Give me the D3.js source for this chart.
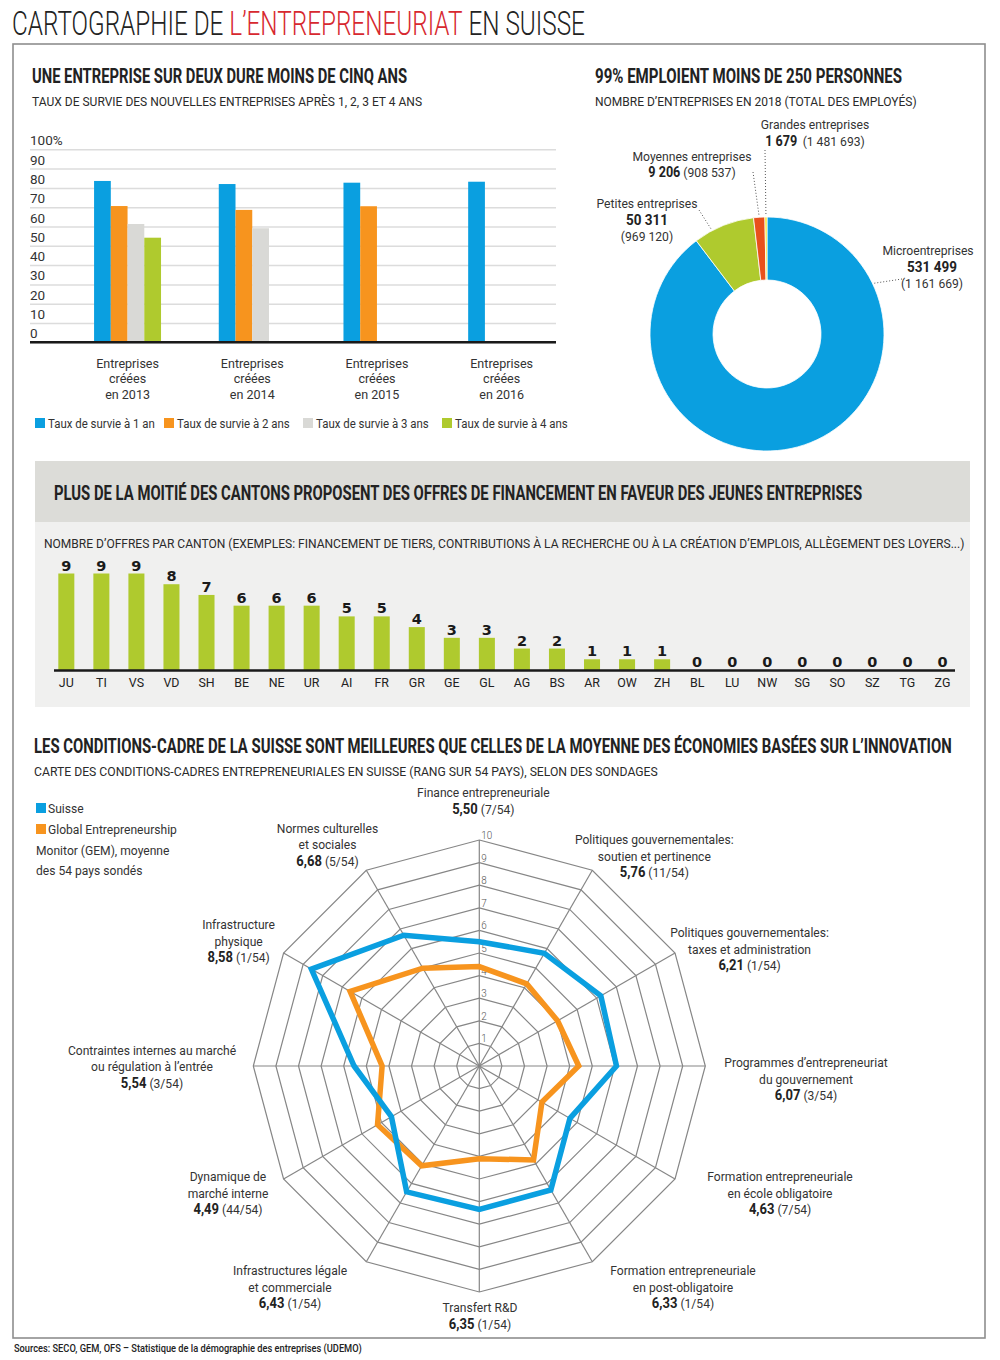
<!DOCTYPE html>
<html><head><meta charset="utf-8">
<script src="https://cdn.jsdelivr.net/npm/d3@7"></script>
<style>html,body{margin:0;padding:0;background:#fff}</style>
</head><body><svg id="c" width="1000" height="1360"></svg>
<script>
// ---------------- DATA ----------------
const years = ["2013", "2014", "2015", "2016"];
const survivalSeries = ["Taux de survie à 1 an", "Taux de survie à 2 ans", "Taux de survie à 3 ans", "Taux de survie à 4 ans"];
const survival1 = [83.6, 82.0, 82.7, 83.2];
const survival2 = [70.6, 68.6, 70.5, null];
const survival3 = [61.3, 59.1, null, null];
const survival4 = [54.2, null, null, null];
const survivalTicks = [0, 10, 20, 30, 40, 50, 60, 70, 80, 90, 100];

const sizeClasses = ["Microentreprises", "Petites entreprises", "Moyennes entreprises", "Grandes entreprises"];
const firmCounts = [531499, 50311, 9206, 1679];
const employeeCounts = [1161669, 969120, 908537, 1481693];

const cantons = ["JU","TI","VS","VD","SH","BE","NE","UR","AI","FR","GR","GE","GL","AG","BS","AR","OW","ZH","BL","LU","NW","SG","SO","SZ","TG","ZG"];
const offers = [9,9,9,8,7,6,6,6,5,5,4,3,3,2,2,1,1,1,0,0,0,0,0,0,0,0];

const radarAxes = [
  ["Finance entrepreneuriale"],
  ["Politiques gouvernementales:", "soutien et pertinence"],
  ["Politiques gouvernementales:", "taxes et administration"],
  ["Programmes d’entrepreneuriat", "du gouvernement"],
  ["Formation entrepreneuriale", "en école obligatoire"],
  ["Formation entrepreneuriale", "en post-obligatoire"],
  ["Transfert R&D"],
  ["Infrastructures légale", "et commerciale"],
  ["Dynamique de", "marché interne"],
  ["Contraintes internes au marché", "ou régulation à l’entrée"],
  ["Infrastructure", "physique"],
  ["Normes culturelles", "et sociales"]
];
const suisseScores = [5.50, 5.76, 6.21, 6.07, 4.63, 6.33, 6.35, 6.43, 4.49, 5.54, 8.58, 6.68];
const suisseRanks = [7, 11, 1, 3, 7, 1, 1, 1, 44, 3, 1, 5];
const gemScores = [4.4, 4.2, 4.0, 4.4, 3.2, 4.8, 4.1, 5.1, 5.2, 4.3, 6.6, 5.0];
const radarTicks = [1,2,3,4,5,6,7,8,9,10];

// ---------------- STYLE / LAYOUT ----------------
const COL = {blue:"#0a9fe0", orange:"#f7941e", gray:"#d9d9d6", green:"#afca2e", red:"#e8501c", yellow:"#f5e40a", titleRed:"#d7282f", text:"#2a2a2a"};
const FONT = "Roboto, 'Open Sans', 'Liberation Sans', sans-serif";
const fr = d3.formatLocale({decimal:",", thousands:" ", grouping:[3], currency:["","€"]});
const fmtInt = fr.format(",");
const fmtScore = fr.format(".2f");

const svg = d3.select("#c");
svg.append("rect").attr("width",1000).attr("height",1360).attr("fill","#fff");

function T(g, x, y, str, o = {}) {
  const t = g.append("text")
    .attr("transform", `translate(${x},${y}) scale(${o.sx || 0.93},1)`)
    .attr("text-anchor", o.anchor || "start")
    .style("font-family", o.family || FONT)
    .style("font-size", (o.size || 13) + "px")
    .style("font-weight", o.weight || 400)
    .style("fill", o.fill || COL.text);
  if (str !== null) t.text(str);
  return t;
}
function fit(t, x, y, width) {
  const w = t.node().getComputedTextLength();
  t.attr("transform", `translate(${x},${y}) scale(${width / w},1)`);
  return t;
}

// frame
svg.append("rect").attr("x",13).attr("y",44).attr("width",972).attr("height",1294)
  .attr("fill","none").attr("stroke","#8e8e8e").attr("stroke-width",1.6);

// main title
const mt = T(svg, 0, 0, null, {size:33, weight:300, fill:"#222"});
mt.append("tspan").text("CARTOGRAPHIE DE ");
mt.append("tspan").attr("fill", COL.titleRed).style("fill", COL.titleRed).text("L’ENTREPRENEURIAT");
mt.append("tspan").text(" EN SUISSE");
fit(mt, 12, 35, 573);

// ---------------- SECTION 1: survival bars ----------------
fit(T(svg,0,0,"UNE ENTREPRISE SUR DEUX DURE MOINS DE CINQ ANS",{size:21,weight:700,fill:"#222"}), 32, 83, 375);
fit(T(svg,0,0,"TAUX DE SURVIE DES NOUVELLES ENTREPRISES APRÈS 1, 2, 3 ET 4 ANS",{size:13,weight:400}), 32, 105.5, 390);

const g1 = svg.append("g");
const y1 = d3.scaleLinear().domain([0,100]).range([342.3,149.3]);
const gx0 = 30, gx1 = 556;
const yAx = g1.append("g").attr("transform",`translate(${gx0},0)`)
  .call(d3.axisRight(y1).tickValues(survivalTicks).tickSize(gx1-gx0).tickFormat(d => d === 100 ? "100%" : d));
yAx.select(".domain").remove();
yAx.selectAll(".tick line").attr("stroke","#dcdcdc").attr("stroke-width",1.5);
yAx.selectAll(".tick text").attr("x",0).attr("dy",-4.5).attr("text-anchor","start")
  .style("font-family",FONT).style("font-size","13.5px").style("fill","#333");

const x0 = d3.scaleBand().domain(years).range([65.2,564]).paddingInner(0.463).paddingOuter(0.2315);
const seriesKeys = [0,1,2,3];
const x1 = d3.scaleBand().domain(seriesKeys).range([0, x0.bandwidth()]);
const seriesVals = [survival1, survival2, survival3, survival4];
const seriesCol = [COL.blue, COL.orange, COL.gray, COL.green];
years.forEach((yr, yi) => {
  seriesKeys.forEach(si => {
    const v = seriesVals[si][yi];
    if (v == null) return;
    g1.append("rect").attr("x", x0(yr) + x1(si)).attr("width", x1.bandwidth())
      .attr("y", y1(v)).attr("height", y1(0) - y1(v)).attr("fill", seriesCol[si]);
  });
  const cx = x0(yr) + x0.bandwidth()/2;
  ["Entreprises","créées","en " + yr].forEach((s,li) => T(g1, cx, 367.5 + li*15.5, s, {anchor:"middle", size:13.5, fill:"#333"}));
});
g1.append("line").attr("x1",gx0).attr("x2",gx1).attr("y1",y1(0)).attr("y2",y1(0)).attr("stroke","#1a1a1a").attr("stroke-width",2.5);

// legend
const legX = [35, 164, 303, 442];
survivalSeries.forEach((s,i) => {
  g1.append("rect").attr("x",legX[i]).attr("y",418).attr("width",10).attr("height",10).attr("fill",seriesCol[i]);
  T(g1, legX[i]+13, 427.5, s, {size:13, sx:0.88, fill:"#333"});
});

// ---------------- SECTION 1b: donut ----------------
fit(T(svg,0,0,"99% EMPLOIENT MOINS DE 250 PERSONNES",{size:21,weight:700,fill:"#222"}), 595, 83, 307);
fit(T(svg,0,0,"NOMBRE D’ENTREPRISES EN 2018 (TOTAL DES EMPLOYÉS)",{size:13,weight:400}), 595, 105.5, 322);

const dc = {x:767, y:334}, rOut = 117, rIn = 54;
const gd = svg.append("g").attr("transform",`translate(${dc.x},${dc.y})`);
const pie = d3.pie().sort(null).value(d => d)(firmCounts);
const arc = d3.arc().innerRadius(rIn).outerRadius(rOut);
const donutCol = [COL.blue, COL.green, COL.red, COL.yellow];
gd.selectAll("path").data(pie).join("path").attr("d",arc).attr("fill",(d,i)=>donutCol[i])
  .attr("stroke","#fff").attr("stroke-width",0.8);

// donut labels (positions relative to donut centre)
const donutLab = [
  {x:161, y:-79, from:[135,-55], frac:0.2},
  {x:-120, y:-126, from:[-68,-124], frac:0.3},
  {x:-75, y:-173, from:[-14,-162], frac:0.5},
  {x:48, y:-205.5, from:[-2,-184], frac:0.5}
];
pie.forEach((p,i) => {
  const L = donutLab[i];
  const a = p.startAngle + (p.endAngle - p.startAngle) * L.frac;
  const ex = Math.sin(a)*(rOut+1), ey = -Math.cos(a)*(rOut+1);
  gd.append("line").attr("x1",L.from[0]).attr("y1",L.from[1]).attr("x2",ex).attr("y2",ey)
    .attr("stroke","#555").attr("stroke-width",1).attr("stroke-dasharray","1,2");
  T(gd, L.x, L.y, sizeClasses[i], {anchor:"middle", size:13.5, sx:0.9, fill:"#333"});
  if (i === 3) {
    const t = T(gd, L.x, L.y + 17.5, null, {anchor:"middle", size:13.5, sx:0.9, fill:"#333"});
    t.append("tspan").style("font-weight",700).style("font-size","14px").style("fill","#222").text(fmtInt(firmCounts[i]));
    t.append("tspan").attr("dx",6).text("(" + fmtInt(employeeCounts[i]) + ")");
  } else if (i === 2) {
    const t = T(gd, L.x, L.y + 16, null, {anchor:"middle", size:13.5, sx:0.9, fill:"#333"});
    t.append("tspan").style("font-weight",700).style("font-size","14px").style("fill","#222").text(fmtInt(firmCounts[i]));
    t.append("tspan").text(" (" + fmtInt(employeeCounts[i]) + ")");
  } else {
    T(gd, L.x + (i===0?4:0), L.y + 16.5, fmtInt(firmCounts[i]), {anchor:"middle", size:14.5, weight:700, sx:0.93, fill:"#222"});
    T(gd, L.x + (i===0?4:0), L.y + 33, "(" + fmtInt(employeeCounts[i]) + ")", {anchor:"middle", size:13.5, sx:0.9, fill:"#333"});
  }
});

// ---------------- SECTION 2: cantons ----------------
svg.append("rect").attr("x",35).attr("y",461).attr("width",935).attr("height",61).attr("fill","#dcdcd8");
svg.append("rect").attr("x",35).attr("y",522).attr("width",935).attr("height",185).attr("fill","#f0f0ef");
fit(T(svg,0,0,"PLUS DE LA MOITIÉ DES CANTONS PROPOSENT DES OFFRES DE FINANCEMENT EN FAVEUR DES JEUNES ENTREPRISES",{size:21,weight:700,fill:"#222"}), 54, 500, 808);
fit(T(svg,0,0,"NOMBRE D’OFFRES PAR CANTON (EXEMPLES: FINANCEMENT DE TIERS, CONTRIBUTIONS À LA RECHERCHE OU À LA CRÉATION D’EMPLOIS, ALLÈGEMENT DES LOYERS...)",{size:13,weight:400}), 44, 547.5, 921);

const g2 = svg.append("g");
const xc = d3.scaleBand().domain(cantons).range([48.8,960]).paddingInner(0.543).paddingOuter(0.2715);
const yc = d3.scaleLinear().domain([0,9]).range([670,573.5]);
g2.selectAll("rect.bar").data(offers).join("rect").attr("class","bar")
  .attr("x",(d,i)=>xc(cantons[i])).attr("width",xc.bandwidth())
  .attr("y",d=>yc(d)).attr("height",d=>yc(0)-yc(d)).attr("fill",COL.green);
g2.selectAll("text.val").data(offers).join("text").attr("class","val")
  .attr("x",(d,i)=>xc(cantons[i])+xc.bandwidth()/2).attr("y",d=>yc(d)-3)
  .attr("text-anchor","middle").style("font-family","'DejaVu Sans', sans-serif").style("font-size","14.5px")
  .style("font-weight",700).style("fill","#1a1a1a").text(d=>d);
const xcAx = g2.append("g").attr("transform","translate(0,670)")
  .call(d3.axisBottom(xc).tickSize(0));
xcAx.select(".domain").remove();
xcAx.selectAll(".tick text").attr("y",17.5).attr("dy",0)
  .style("font-family",FONT).style("font-size","13.5px").style("fill","#222")
  .attr("transform","scale(0.92,1)").attr("x",0);
g2.append("line").attr("x1",54).attr("x2",955).attr("y1",670.5).attr("y2",670.5).attr("stroke","#1a1a1a").attr("stroke-width",2.5);

// ---------------- SECTION 3: radar ----------------
fit(T(svg,0,0,"LES CONDITIONS-CADRE DE LA SUISSE SONT MEILLEURES QUE CELLES DE LA MOYENNE DES ÉCONOMIES BASÉES SUR L’INNOVATION",{size:21,weight:700,fill:"#222"}), 34, 753, 918);
fit(T(svg,0,0,"CARTE DES CONDITIONS-CADRES ENTREPRENEURIALES EN SUISSE (RANG SUR 54 PAYS), SELON DES SONDAGES",{size:13,weight:400}), 34, 775.5, 624);

// legend
const g3 = svg.append("g");
g3.append("rect").attr("x",36).attr("y",803).attr("width",10).attr("height",10).attr("fill",COL.blue);
T(g3, 48, 812.5, "Suisse", {size:13, fill:"#333"});
g3.append("rect").attr("x",36).attr("y",824).attr("width",10).attr("height",10).attr("fill",COL.orange);
T(g3, 48, 833.5, "Global Entrepreneurship", {size:13, fill:"#333"});
T(g3, 36, 854.5, "Monitor (GEM), moyenne", {size:13, fill:"#333"});
T(g3, 36, 874.5, "des 54 pays sondés", {size:13, fill:"#333"});

const rc = {x:479.3, y:1066};
const rr = d3.scaleLinear().domain([0,10]).range([0,226]);
const nAx = radarAxes.length;
const ang = i => i * 2 * Math.PI / nAx;
const gr = svg.append("g").attr("transform",`translate(${rc.x},${rc.y})`);
const ringLine = d3.lineRadial().angle((d,i)=>ang(i)).radius(d=>rr(d)).curve(d3.curveLinearClosed);
radarTicks.forEach(k => {
  gr.append("path").attr("d", ringLine(radarAxes.map(()=>k))).attr("fill","none").attr("stroke","#868686").attr("stroke-width",1.2);
});
radarAxes.forEach((a,i) => {
  gr.append("line").attr("x1",0).attr("y1",0).attr("x2",Math.sin(ang(i))*rr(10)).attr("y2",-Math.cos(ang(i))*rr(10))
    .attr("stroke","#868686").attr("stroke-width",1.2);
});
radarTicks.forEach(k => {
  T(gr, 2, -rr(k) - 1, String(k), {size:11, weight:300, sx:0.9, fill:"#555"});
});
gr.append("path").attr("d", ringLine(gemScores)).attr("fill","none").attr("stroke",COL.orange).attr("stroke-width",5.5).attr("stroke-linejoin","miter");
gr.append("path").attr("d", ringLine(suisseScores)).attr("fill","none").attr("stroke",COL.blue).attr("stroke-width",5.5).attr("stroke-linejoin","miter");

// axis labels: offsets of block centre from outer vertex
const radarLabOff = [[4,-39],[62,-14],[74.5,-4],[100.7,13],[105,14],[90.7,25.3],[0.7,24],[-76.3,25.3],[-55.6,14],[-101.3,0.5],[-45,-12],[-38.8,-25.3]];
const LH = 16.5;
radarAxes.forEach((lines,i) => {
  const vx = Math.sin(ang(i))*rr(10), vy = -Math.cos(ang(i))*rr(10);
  const cx = vx + radarLabOff[i][0], cy = vy + radarLabOff[i][1];
  const n = lines.length + 1;
  const y0 = cy - (n-1)/2*LH + 4.5;
  lines.forEach((s,li) => T(gr, cx, y0 + li*LH, s, {anchor:"middle", size:13, fill:"#333"}));
  const t = T(gr, cx, y0 + lines.length*LH, null, {anchor:"middle", size:13, fill:"#333"});
  t.append("tspan").style("font-weight",700).style("font-size","14px").style("fill","#222").text(fmtScore(suisseScores[i]));
  t.append("tspan").text(" (" + suisseRanks[i] + "/54)");
});

// sources
fit(T(svg,0,0,"Sources: SECO, GEM, OFS – Statistique de la démographie des entreprises (UDEMO)",{size:10.5,weight:500,fill:"#222"}), 14, 1351.5, 348);
</script>
</body></html>
